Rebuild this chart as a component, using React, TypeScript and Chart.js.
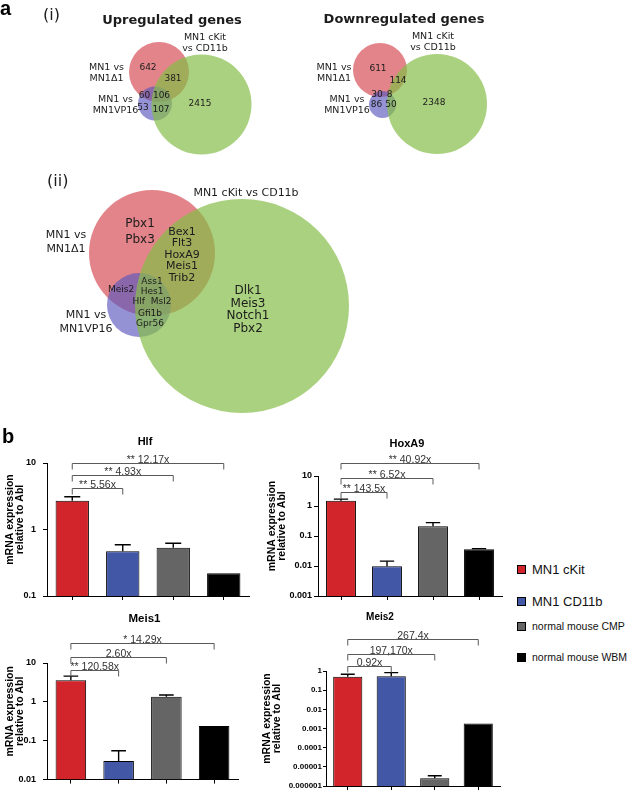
import React, { useEffect, useRef } from 'react';
import { Chart, registerables } from 'chart.js';

Chart.register(...registerables);

// ---------------- DATA ----------------
const categories = ['MN1 cKit', 'MN1 CD11b', 'normal mouse CMP', 'normal mouse WBM'];
const barColors = ['#d2252b', '#4357a7', '#656565', '#000000'];
const yAxisTitle = ['mRNA expression', 'relative to Abl'];

const hlfValues = [2.7, 0.47, 0.53, 0.22];
const hlfErrorTops = [3.1, 0.59, 0.62, null];
const hlfTicks = [0.1, 1, 10];
const hlfComparisons = ['** 5.56x', '** 4.93x', '** 12.17x'];

const hoxa9Values = [1.5, 0.0098, 0.21, 0.036];
const hoxa9ErrorTops = [1.7, 0.0145, 0.28, 0.038];
const hoxa9Ticks = [0.001, 0.01, 0.1, 1, 10];
const hoxa9Comparisons = ['** 143.5x', '** 6.52x', '** 40.92x'];

const meis1Values = [3.6, 0.03, 1.35, 0.24];
const meis1ErrorTops = [4.6, 0.055, 1.5, null];
const meis1Ticks = [0.01, 0.1, 1, 10];
const meis1Comparisons = ['** 120.58x', '2.60x', '* 14.29x'];

const meis2Values = [0.5, 0.53, 0.0000025, 0.0018];
const meis2ErrorTops = [0.68, 0.82, 0.0000034, null];
const meis2Ticks = [0.000001, 0.00001, 0.0001, 0.001, 0.01, 0.1, 1];
const meis2Comparisons = ['0.92x', '197,170x', '267.4x'];

// Venn data: sets, and regions in order
// [Δ1 only, Δ1∩cKit, Δ1∩VP16, all three, VP16 only, VP16∩cKit, cKit only]
const vennSets = ['MN1 vs MN1Δ1', 'MN1 cKit vs CD11b', 'MN1 vs MN1VP16'];
const vennTitles = ['Upregulated genes', 'Downregulated genes'];
const upregulatedCounts = [642, 381, 60, 106, 53, 107, 2415];
const downregulatedCounts = [611, 114, 30, 8, 86, 50, 2348];
const genesDelta1Only = ['Pbx1', 'Pbx3'];
const genesDelta1CKit = ['Bex1', 'Flt3', 'HoxA9', 'Meis1', 'Trib2'];
const genesDelta1VP16 = ['Meis2'];
const genesAllThree = ['Ass1', 'Hes1', 'Hlf  Msl2'];
const genesVP16CKit = ['Gfi1b', 'Gpr56'];
const genesCKitOnly = ['Dlk1', 'Meis3', 'Notch1', 'Pbx2'];

// ---------------- STYLE / LAYOUT ----------------
const BAR_FONT = "'Liberation Sans', Arial, Helvetica, sans-serif";
const VENN_FONT = "'DejaVu Sans', Verdana, sans-serif";
Chart.defaults.font.family = BAR_FONT;

const vennFills = ['rgba(210,62,70,0.64)', 'rgba(134,190,72,0.7)', 'rgba(92,88,190,0.66)'];
const vennDrawOrder = [0, 2, 1];

const vennLayouts = [
  {
    circles: [{ x: 159, y: 72, r: 30 }, { x: 201.5, y: 104.5, r: 50 }, { x: 155, y: 103.5, r: 17 }],
    title: { x: 172, y: 21 },
    setLabels: [{ x: 106.5, y: 68 }, { x: 205, y: 38 }, { x: 115.5, y: 100 }],
    regions: [[148, 68], [173, 79], [144.5, 96], [161.5, 96], [143, 108], [161, 110], [200, 104]],
  },
  {
    circles: [{ x: 380, y: 70, r: 27 }, { x: 437, y: 104, r: 50 }, { x: 382.5, y: 104.5, r: 13.5 }],
    title: { x: 404, y: 20 },
    setLabels: [{ x: 334, y: 68 }, { x: 433, y: 37 }, { x: 347, y: 100 }],
    regions: [[378, 69], [398, 81], [377, 95], [389.5, 95], [376.5, 105], [391, 105], [434, 103]],
  },
  {
    circles: [{ x: 152, y: 253, r: 63 }, { x: 242, y: 306, r: 107 }, { x: 139, y: 305, r: 32 }],
    title: null,
    setLabels: [{ x: 66, y: 235 }, { x: 246, y: 193 }, { x: 86, y: 315 }],
    regions: [[140, 224], [182, 232], [121, 290], [152, 282], [0, 0], [150, 314], [248, 291]],
  },
];

function splitSet(s: string): string[] {
  const i = s.indexOf(' vs ');
  const a = s.slice(0, i);
  return a === 'MN1' ? [a + ' vs', s.slice(i + 4)] : [a, s.slice(i + 1)];
}

type TextItem = { lines: string[]; x: number; y: number; size: number; lh: number; bold?: boolean };

function buildVennText(): TextItem[] {
  const items: TextItem[] = [];
  [upregulatedCounts, downregulatedCounts].forEach((counts, v) => {
    const L = vennLayouts[v];
    items.push({ lines: [vennTitles[v]], x: L.title!.x, y: L.title!.y, size: 13, lh: 0, bold: true });
    vennSets.forEach((s, k) => {
      items.push({ lines: splitSet(s), x: L.setLabels[k].x, y: L.setLabels[k].y, size: 9.5, lh: 10.5 });
    });
    counts.forEach((c, k) => {
      items.push({ lines: [String(c)], x: L.regions[k][0], y: L.regions[k][1], size: 9, lh: 0 });
    });
  });
  const G = vennLayouts[2];
  vennSets.forEach((s, k) => {
    const lines = k === 1 ? [s] : splitSet(s);
    items.push({ lines, x: G.setLabels[k].x, y: G.setLabels[k].y, size: 11, lh: 14.5 });
  });
  const groups: [string[], number, number, number][] = [
    [genesDelta1Only, 0, 12, 15.5],
    [genesDelta1CKit, 1, 11, 11.5],
    [genesDelta1VP16, 2, 9, 10],
    [genesAllThree, 3, 9, 9.6],
    [genesVP16CKit, 5, 9, 10],
    [genesCKitOnly, 6, 12, 12.6],
  ];
  groups.forEach(([lines, r, size, lh]) => {
    items.push({ lines, x: G.regions[r][0], y: G.regions[r][1], size, lh });
  });
  return items;
}

function vennConfig(): any {
  const points: any[] = [];
  const colors: string[] = [];
  vennLayouts.forEach((L) => {
    vennDrawOrder.forEach((si) => {
      points.push({ x: L.circles[si].x, y: L.circles[si].y, r: L.circles[si].r });
      colors.push(vennFills[si]);
    });
  });
  const texts = buildVennText();
  const textPlugin = {
    id: 'vennText',
    afterDatasetsDraw(chart: any) {
      const { ctx } = chart;
      const xs = chart.scales.x;
      const ys = chart.scales.y;
      ctx.save();
      ctx.textAlign = 'center';
      ctx.textBaseline = 'middle';
      ctx.fillStyle = '#1c1c1c';
      texts.forEach((t) => {
        ctx.font = `${t.bold ? 'bold ' : ''}${t.size}px ${VENN_FONT}`;
        t.lines.forEach((ln, k) => {
          ctx.fillText(ln, xs.getPixelForValue(t.x), ys.getPixelForValue(t.y) + k * t.lh);
        });
      });
      ctx.restore();
    },
  };
  return {
    type: 'bubble',
    data: { datasets: [{ data: points, backgroundColor: colors, borderWidth: 0, clip: false }] },
    options: {
      animation: false,
      responsive: false,
      events: [],
      layout: { padding: 0, autoPadding: false },
      plugins: { legend: { display: false }, tooltip: { enabled: false } },
      scales: {
        x: { type: 'linear', min: 0, max: 637, display: false },
        y: { type: 'linear', min: 0, max: 420, reverse: true, display: false },
      },
    },
    plugins: [textPlugin],
  };
}

type BarSpec = {
  title: string;
  values: number[];
  errorTops: (number | null)[];
  ticks: number[];
  comparisons: string[];
  box: { left: number; top: number; width: number; height: number };
  padTop: number;
  padRight: number;
  yWidth: number;
  xHeight: number;
  barPct: number;
  tickFont: number;
  tickPad: number;
  tickLen: number;
  titleDx: number;
  titleRise: number;
  titleSize: number;
  bracketRise: number[];
  labelX: number;
};

const barSpecs: BarSpec[] = [
  {
    title: 'Hlf', values: hlfValues, errorTops: hlfErrorTops, ticks: hlfTicks, comparisons: hlfComparisons,
    box: { left: 0, top: 420, width: 260, height: 190 }, padTop: 43, padRight: 11, yWidth: 47, xHeight: 14,
    barPct: 0.66, tickFont: 9, tickPad: 7, tickLen: 4, titleDx: -3, titleRise: 21, titleSize: 11,
    bracketRise: [-25, -12, 0], labelX: 10,
  },
  {
    title: 'HoxA9', values: hoxa9Values, errorTops: hoxa9ErrorTops, ticks: hoxa9Ticks, comparisons: hoxa9Comparisons,
    box: { left: 262, top: 420, width: 250, height: 190 }, padTop: 56, padRight: 10, yWidth: 56, xHeight: 14,
    barPct: 0.65, tickFont: 9, tickPad: 2, tickLen: 4, titleDx: -3, titleRise: 32, titleSize: 11,
    bracketRise: [-16, -2, 13], labelX: 10,
  },
  {
    title: 'Meis1', values: meis1Values, errorTops: meis1ErrorTops, ticks: meis1Ticks, comparisons: meis1Comparisons,
    box: { left: 0, top: 600, width: 250, height: 192 }, padTop: 63, padRight: 12, yWidth: 47, xHeight: 5,
    barPct: 0.64, tickFont: 9, tickPad: 7, tickLen: 4, titleDx: 2, titleRise: 44, titleSize: 11.5,
    bracketRise: [-7, 6, 20], labelX: 10,
  },
  {
    title: 'Meis2', values: meis2Values, errorTops: meis2ErrorTops, ticks: meis2Ticks, comparisons: meis2Comparisons,
    box: { left: 262, top: 600, width: 250, height: 192 }, padTop: 71, padRight: 12, yWidth: 64, xHeight: 6,
    barPct: 0.67, tickFont: 8, tickPad: 1, tickLen: 3, titleDx: -33, titleRise: 54, titleSize: 10,
    bracketRise: [5, 17, 32], labelX: 5,
  },
];

function barConfig(s: BarSpec): any {
  const deco = {
    id: 'barDeco',
    afterDatasetsDraw(chart: any) {
      const { ctx, chartArea } = chart;
      const xs = chart.scales.x;
      const ys = chart.scales.y;
      const meta = chart.getDatasetMeta(0);
      ctx.save();
      // error bars (upper whisker)
      ctx.strokeStyle = '#000';
      ctx.lineWidth = 1.4;
      s.errorTops.forEach((t, i) => {
        if (t == null) return;
        const el: any = meta.data[i];
        const x = el.x;
        const y0 = ys.getPixelForValue(s.values[i]);
        const y1 = ys.getPixelForValue(t);
        const h = el.width * 0.24;
        ctx.beginPath();
        ctx.moveTo(x, y0);
        ctx.lineTo(x, y1);
        ctx.moveTo(x - h, y1);
        ctx.lineTo(x + h, y1);
        ctx.stroke();
      });
      // comparison brackets
      ctx.strokeStyle = '#5a5a5a';
      ctx.lineWidth = 1;
      ctx.fillStyle = '#333';
      ctx.font = `10.5px ${BAR_FONT}`;
      ctx.textAlign = 'center';
      ctx.textBaseline = 'alphabetic';
      s.comparisons.forEach((lab, k) => {
        const x1 = xs.getPixelForValue(0);
        const x2 = xs.getPixelForValue(k + 1);
        const y = Math.round(chartArea.top - s.bracketRise[k]) + 0.5;
        ctx.beginPath();
        ctx.moveTo(x1, y + 6);
        ctx.lineTo(x1, y);
        ctx.lineTo(x2, y);
        ctx.lineTo(x2, y + 6);
        ctx.stroke();
        ctx.fillText(lab, (x1 + x2) / 2, y - 0.5);
      });
      // chart title
      ctx.fillStyle = '#000';
      ctx.font = `bold ${s.titleSize}px ${BAR_FONT}`;
      ctx.textBaseline = 'middle';
      ctx.fillText(s.title, (chartArea.left + chartArea.right) / 2 + s.titleDx, chartArea.top - s.titleRise);
      // y axis title
      ctx.save();
      ctx.translate(s.labelX, (chartArea.top + chartArea.bottom) / 2 - 10);
      ctx.rotate(-Math.PI / 2);
      ctx.font = `bold 10.5px ${BAR_FONT}`;
      yAxisTitle.forEach((ln, k) => ctx.fillText(ln, 0, k * 10.5));
      ctx.restore();
      ctx.restore();
    },
  };
  return {
    type: 'bar',
    data: {
      labels: categories,
      datasets: [
        {
          data: s.values,
          backgroundColor: barColors,
          borderColor: '#000',
          borderWidth: 1,
          barPercentage: s.barPct,
          categoryPercentage: 1,
        },
      ],
    },
    options: {
      animation: false,
      responsive: false,
      events: [],
      layout: { padding: { top: s.padTop, right: s.padRight, left: 0, bottom: 0 } },
      plugins: { legend: { display: false }, tooltip: { enabled: false }, title: { display: false } },
      scales: {
        x: {
          type: 'category',
          offset: true,
          grid: { offset: false, drawOnChartArea: false, drawTicks: true, tickLength: 4, color: '#000' },
          border: { display: true, color: '#000', width: 1 },
          ticks: { callback: () => '' },
          afterFit: (sc: any) => {
            sc.height = s.xHeight;
          },
        },
        y: {
          type: 'logarithmic',
          min: s.ticks[0],
          max: s.ticks[s.ticks.length - 1],
          afterBuildTicks: (sc: any) => {
            sc.ticks = s.ticks.map((v) => ({ value: v }));
          },
          ticks: {
            callback: (v: any) => String(v),
            font: { size: s.tickFont, weight: 'bold', family: BAR_FONT },
            color: '#000',
            padding: s.tickPad,
            autoSkip: false,
          },
          grid: { drawOnChartArea: false, drawTicks: true, tickLength: s.tickLen, color: '#000' },
          border: { display: true, color: '#000', width: 1 },
          afterFit: (sc: any) => {
            sc.width = s.yWidth;
          },
        },
      },
    },
    plugins: [deco],
  };
}

function ChartBox({ box, make }: { box: { left: number; top: number; width: number; height: number }; make: () => any }) {
  const ref = useRef<HTMLCanvasElement>(null);
  useEffect(() => {
    const chart = new Chart(ref.current as HTMLCanvasElement, make());
    return () => chart.destroy();
  }, []);
  return (
    <canvas
      ref={ref}
      width={box.width}
      height={box.height}
      style={{ position: 'absolute', left: box.left, top: box.top, width: box.width, height: box.height }}
    />
  );
}

const legendY = [569, 601, 626, 657];
const legendFont = [13, 13, 10.5, 10.5];

export default function App() {
  const letter = (t: string, left: number, top: number): React.ReactNode => (
    <div style={{ position: 'absolute', left, top, font: `bold 20px ${BAR_FONT}`, lineHeight: '20px' }}>{t}</div>
  );
  const roman = (t: string, left: number, top: number): React.ReactNode => (
    <div style={{ position: 'absolute', left, top, font: `16px ${VENN_FONT}`, lineHeight: '16px', color: '#1c1c1c' }}>{t}</div>
  );
  return (
    <div style={{ position: 'fixed', left: 0, top: 0, width: 637, height: 792, background: '#fff', overflow: 'hidden' }}>
      <ChartBox box={{ left: 0, top: 0, width: 637, height: 420 }} make={vennConfig} />
      {barSpecs.map((s) => (
        <ChartBox key={s.title} box={s.box} make={() => barConfig(s)} />
      ))}
      {letter('a', 0, -2)}
      {letter('b', 2, 426)}
      {roman('(i)', 43, 7)}
      {roman('(ii)', 47, 173)}
      {categories.map((c, i) => (
        <div
          key={c}
          style={{
            position: 'absolute',
            left: 517,
            top: legendY[i] - 8,
            height: 16,
            display: 'flex',
            alignItems: 'center',
            font: `${legendFont[i]}px ${BAR_FONT}`,
            color: '#111',
            whiteSpace: 'nowrap',
          }}
        >
          <span
            style={{
              display: 'inline-block',
              width: 9,
              height: 9,
              boxSizing: 'border-box',
              background: barColors[i],
              border: '1px solid #000',
              marginRight: 6,
            }}
          />
          <span>{c}</span>
        </div>
      ))}
    </div>
  );
}
